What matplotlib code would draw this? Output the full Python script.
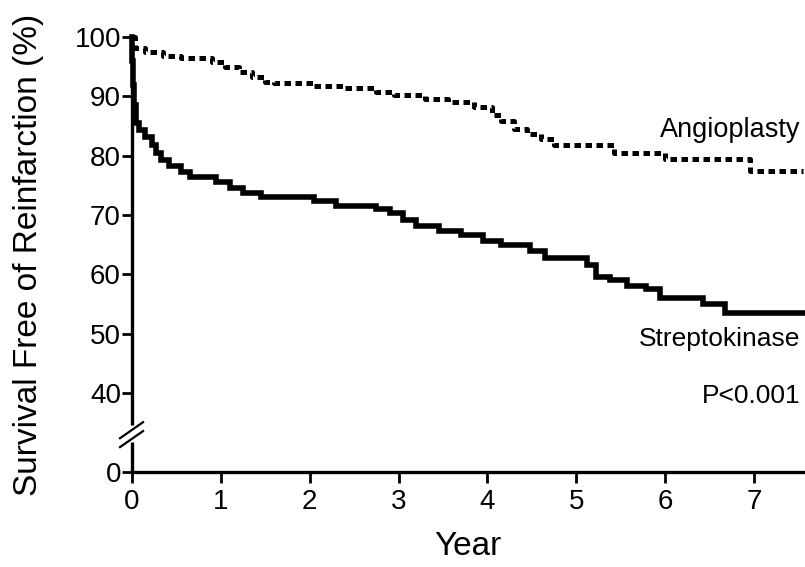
import matplotlib
matplotlib.use("Agg")
import matplotlib.pyplot as plt

# Kaplan-Meier steps (year, % free of reinfarction)
angio_years = [0, 0.03, 0.15, 0.35, 0.55, 0.9, 1.05, 1.2, 1.35, 1.5, 1.6,
               2.05, 2.4, 2.75, 2.95, 3.3, 3.55, 3.85, 4.05, 4.15, 4.3,
               4.45, 4.6, 4.75, 5.42, 6.0, 6.95, 7.55]
angio_surv = [100, 98.2, 97.5, 96.8, 96.4, 95.8, 95.0, 94.2, 93.3, 92.5, 92.2,
              91.8, 91.4, 90.8, 90.2, 89.6, 89.0, 88.3, 86.8, 85.8, 84.6,
              83.6, 82.8, 81.8, 80.5, 79.4, 77.5, 77.5]

strep_years = [0, 0.005, 0.01, 0.02, 0.04, 0.08, 0.15, 0.22, 0.27, 0.33, 0.42,
               0.55, 0.65, 0.95, 1.1, 1.25, 1.45, 2.05, 2.3, 2.75, 2.9, 3.05,
               3.2, 3.45, 3.7, 3.95, 4.15, 4.48, 4.65, 5.12, 5.22, 5.38, 5.57,
               5.78, 5.94, 6.43, 6.67, 7.55]
strep_surv = [100, 96, 92, 88.5, 85.5, 84.3, 83.2, 81.8, 80.5, 79.3, 78.2,
              77.3, 76.5, 75.5, 74.6, 73.8, 73.1, 72.4, 71.6, 71.1, 70.3, 69.2,
              68.2, 67.4, 66.6, 65.6, 65.0, 64.0, 62.8, 61.6, 59.5, 59.0, 58.1,
              57.5, 56.1, 55.0, 53.5, 53.5]

x_ticks = [0, 1, 2, 3, 4, 5, 6, 7]
y_tick_labels = ["0", "40", "50", "60", "70", "80", "90", "100"]

# the axis is broken: "0" sits just below the 40..100 part
Y0 = 26.7

plt.rcParams['font.family'] = ['Liberation Sans', 'DejaVu Sans']

fig = plt.figure(figsize=(8.05, 5.67), dpi=100)
ax = fig.add_axes([0.164, 0.1675, 0.8335, 0.767])

ax.step(strep_years, strep_surv, where='post', color='black', lw=4.0,
        solid_joinstyle='miter', clip_on=False, zorder=3)
ax.step(angio_years, angio_surv, where='post', color='black', lw=3.6,
        linestyle=(0, (1.3, 0.9)), clip_on=False, zorder=3)

ax.set_xlim(0, 7.55)
ax.set_ylim(Y0, 100)
ax.set_xticks(x_ticks)
ax.set_yticks([Y0, 40, 50, 60, 70, 80, 90, 100])
ax.set_yticklabels(y_tick_labels)

for side in ['top', 'right', 'left']:
    ax.spines[side].set_visible(False)
ax.spines['bottom'].set_linewidth(2.4)

# left spine drawn in two pieces with the break marks between
ax.plot([0, 0], [Y0, 31.8], color='black', lw=2.4, clip_on=False,
        solid_capstyle='butt')
ax.plot([0, 0], [34.6, 100], color='black', lw=2.4, clip_on=False,
        solid_capstyle='butt')
ax.plot([-0.135, 0.124], [32.4, 35.1], color='black', lw=1.6, clip_on=False)
ax.plot([-0.135, 0.124], [30.9, 33.6], color='black', lw=1.6, clip_on=False)

ax.tick_params(axis='y', direction='out', length=7, width=2.0, pad=1,
               labelsize=20)
ax.tick_params(axis='x', direction='out', length=8, width=2.0, pad=4,
               labelsize=20)

ax.set_ylabel("Survival Free of Reinfarction (%)", fontsize=24, labelpad=22)
ax.set_xlabel("Year", fontsize=24, labelpad=12)

ax.text(7.52, 84.3, "Angioplasty", fontsize=19.5, ha='right', va='center')
ax.text(7.52, 49.2, "Streptokinase", fontsize=19, ha='right', va='center')
ax.text(7.52, 39.5, "P<0.001", fontsize=19, ha='right', va='center')

fig.savefig("out.png", dpi=100)
